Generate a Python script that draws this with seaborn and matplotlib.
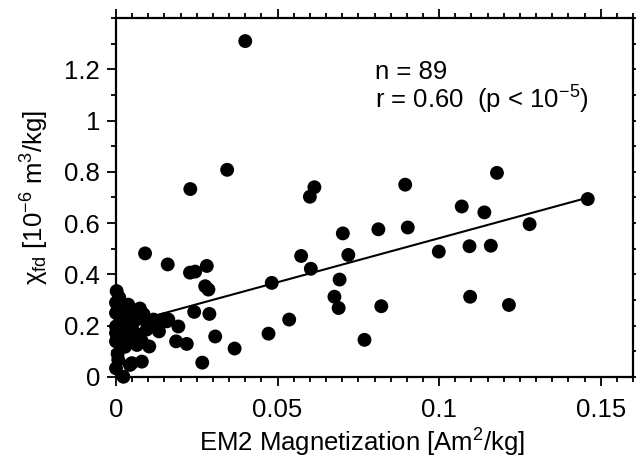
import numpy as np
import pandas as pd
import matplotlib
matplotlib.use("Agg")
import matplotlib.pyplot as plt
from matplotlib.ticker import MultipleLocator, FormatStrFormatter
import seaborn as sns

# EM2 magnetization [Am^2/kg]
em2 = [
    0.040, 0.023, 0.0344, 0.0614, 0.060, 0.0895, 0.1179, 0.107, 0.114, 0.146,
    0.128, 0.0702, 0.0812, 0.0903, 0.0573, 0.0719, 0.0603, 0.0999, 0.1094, 0.1160,
    0.0482, 0.0692, 0.0676, 0.0689, 0.0821, 0.1096, 0.1216, 0.0536, 0.0472, 0.0769,
    0.0367, 0.0307, 0.0267, 0.009, 0.016, 0.0229, 0.0245, 0.0281, 0.0276, 0.0286,
    0.0242, 0.0289, 0.0193, 0.0186, 0.0219, 0.0133, 0.0146, 0.0162, 0.0116, 0.0103,
    0.008, 0.0049, 0.0023, 0.0002, 0.0, 0.0, 0.0038, 0.0069, 0.0064, 0.0023,
    0.0, 0.0, 0.0028, 0.0059, 0.008, 0.0157, 0.0100, 0.0007, 0.0, 0.0043,
    0.0, 0.001, 0.0045, 0.0085, 0.0074, 0.0012, 0.003, 0.005, 0.0015, 0.0028,
    0.006, 0.0005, 0.002, 0.0055, 0.0095, 0.0035, 0.0065, 0.0005, 0.009,
]
# chi_fd [1e-6 m^3/kg]
chi_fd = [
    1.31, 0.733, 0.808, 0.740, 0.703, 0.750, 0.796, 0.665, 0.642, 0.694,
    0.596, 0.560, 0.576, 0.583, 0.472, 0.476, 0.422, 0.489, 0.510, 0.512,
    0.367, 0.380, 0.313, 0.269, 0.276, 0.313, 0.281, 0.224, 0.169, 0.145,
    0.111, 0.158, 0.056, 0.482, 0.439, 0.407, 0.411, 0.433, 0.354, 0.341,
    0.254, 0.246, 0.197, 0.139, 0.129, 0.178, 0.224, 0.224, 0.224, 0.119,
    0.060, 0.054, 0.001, 0.335, 0.29, 0.25, 0.282, 0.256, 0.224, 0.237,
    0.172, 0.139, 0.152, 0.171, 0.139, 0.217, 0.200, 0.067, 0.034, 0.047,
    0.197, 0.31, 0.265, 0.245, 0.267, 0.215, 0.19, 0.205, 0.125, 0.118,
    0.14, 0.155, 0.265, 0.24, 0.185, 0.165, 0.125, 0.09, 0.225,
]

x_ticks = [0, 0.05, 0.1, 0.15]
y_ticks = [0, 0.2, 0.4, 0.6, 0.8, 1.0, 1.2]
stats_lines = ["n = 89", "r = 0.60  (p < 10$^{-5}$)"]

df = pd.DataFrame({"em2": em2, "chi": chi_fd})

sns.set_theme(style="ticks")
plt.rcParams["font.family"] = ["Liberation Sans", "DejaVu Sans"]
plt.rcParams["mathtext.fontset"] = "custom"
plt.rcParams["mathtext.rm"] = "Liberation Sans"
plt.rcParams["mathtext.it"] = "Liberation Sans:italic"
plt.rcParams["mathtext.default"] = "regular"
plt.rcParams["text.color"] = "black"
plt.rcParams["axes.labelcolor"] = "black"
plt.rcParams["xtick.color"] = "black"
plt.rcParams["ytick.color"] = "black"

FS = 18.5

fig = plt.figure(figsize=(6.36, 4.62), dpi=100)
ax = fig.add_axes([116 / 636, 1 - 377 / 462, (633 - 116) / 636, (377 - 18) / 462])

sns.regplot(data=df, x="em2", y="chi", ax=ax, scatter=False, ci=None,
            truncate=True, line_kws=dict(color="black", lw=1.5, zorder=2))
sns.scatterplot(data=df, x="em2", y="chi", ax=ax, s=100, color="black",
                edgecolor="none", zorder=3, clip_on=False)

ax.set_xlim(0, 0.16)
ax.set_ylim(0, 1.4)
ax.set_xticks(x_ticks)
ax.set_yticks(y_ticks)
ax.xaxis.set_minor_locator(MultipleLocator(0.005))
ax.yaxis.set_minor_locator(MultipleLocator(0.1))
ax.xaxis.set_major_formatter(FormatStrFormatter("%g"))
ax.yaxis.set_major_formatter(FormatStrFormatter("%g"))

for s in ax.spines.values():
    s.set_visible(True)
    s.set_linewidth(1.6)
    s.set_color("black")
ax.tick_params(which="both", direction="out", top=True, right=True,
               labeltop=False, labelright=False, color="black", width=1.3,
               labelsize=FS, labelcolor="black")
ax.tick_params(which="major", length=6.5)
ax.tick_params(which="minor", length=3.6)
ax.tick_params(axis="x", which="major", pad=8.5)
ax.tick_params(axis="y", which="major", pad=5)

ax.set_xlabel("EM2 Magnetization [Am$^2$/kg]", fontsize=FS, color="black")
ax.set_ylabel("χ$_{fd}$ [10$^{-6}$ m$^3$/kg]", fontsize=FS, color="black")
ax.xaxis.label.set_va("baseline")
ax.xaxis.set_label_coords(0.475, -0.209)
ax.yaxis.set_label_coords(-0.126, 0.5)

ax.text(0.0802, 1.162, stats_lines[0], fontsize=FS, va="baseline", ha="left")
ax.text(0.0802, 1.045, stats_lines[1], fontsize=FS, va="baseline", ha="left")

fig.savefig("out.png", dpi=100)
